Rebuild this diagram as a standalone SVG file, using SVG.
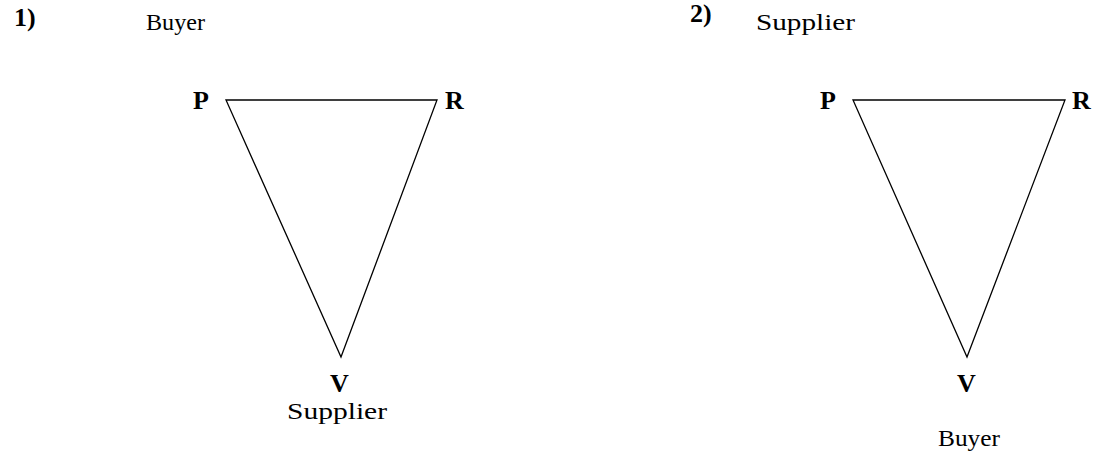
<svg xmlns="http://www.w3.org/2000/svg" width="1112" height="454" viewBox="0 0 1112 454">
<style>
text{font-family:"Liberation Serif","Times New Roman",serif;fill:#000}
.b{font-weight:bold;font-size:26px}
.n{font-size:24px}
.l{fill:none;stroke:#000;stroke-width:1.3}
</style>
<rect width="1112" height="454" fill="#fff"/>
<g id="panel1">
<text class="b" x="14" y="26">1)</text>
<g id="p1"><text class="b" x="193" y="109">P</text></g>
<g id="r1"><text class="b" x="445" y="109">R</text></g>
<g id="v1"><text class="b" x="330" y="392">V</text></g>
<g id="buyer1"><text class="n" x="146" y="30" textLength="59" lengthAdjust="spacingAndGlyphs">Buyer</text></g>
<g id="supplier1"><text class="n" x="287" y="419" textLength="100" lengthAdjust="spacingAndGlyphs">Supplier</text></g>
</g>
<g id="panel2">
<text class="b" x="690" y="22">2)</text>
<g id="p2"><text class="b" x="820" y="109">P</text></g>
<g id="r2"><text class="b" x="1072" y="109">R</text></g>
<g id="v2"><text class="b" x="957" y="392">V</text></g>
<g id="supplier2"><text class="n" x="756" y="30" textLength="99" lengthAdjust="spacingAndGlyphs">Supplier</text></g>
<g id="buyer2"><text class="n" x="938" y="446" textLength="62" lengthAdjust="spacingAndGlyphs">Buyer</text></g>
</g>
<g id="connectors">
<path class="l" d="M226,100 H437 L341,357 Z"/>
<path class="l" d="M853,100 H1065 L967,357 Z"/>
</g>
</svg>
